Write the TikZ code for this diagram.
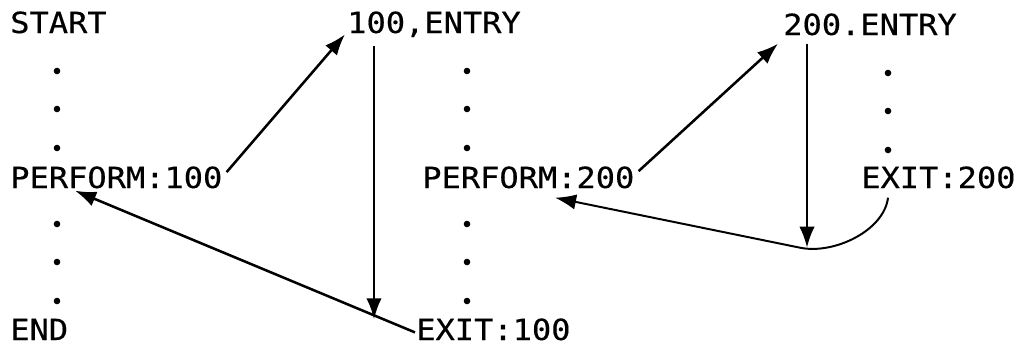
\documentclass[tikz,border=0pt]{standalone}
\usepackage{fontspec}
\setmainfont{DejaVu Sans Mono}[FakeStretch=1.1,FakeBold=0.4]
\usetikzlibrary{arrows.meta}

\begin{document}
\begin{tikzpicture}[x=0.025cm,y=-0.025cm,
    stmt/.style={anchor=base west,inner sep=0pt,font=\fontsize{20.7}{24}\selectfont},
    flow/.style={line width=1.8pt,-{Latex[length=15pt,width=11pt]}}]
  \useasboundingbox (0,0) rectangle (1023,350);

  % main program
  \node[stmt] (start) at (10,33) {START};
  \node[stmt] (perfA) at (10,188) {PERFORM:100};
  \node[stmt] (end) at (10,340) {END};
  \fill (57,71) circle (3.3) (57,109) circle (3.3) (57,148) circle (3.3);
  \fill (57,224) circle (3.3) (57,262) circle (3.3) (57,301) circle (3.3);

  % paragraph 100
  \node[stmt] (entryA) at (347,33) {100,ENTRY};
  \node[stmt] (perfB) at (422,188) {PERFORM:200};
  \node[stmt] (exitA) at (416,340) {EXIT:100};
  \fill (467,71) circle (3.3) (467,109) circle (3.3) (467,148) circle (3.3);
  \fill (467,224) circle (3.3) (467,262) circle (3.3) (467,301) circle (3.3);

  % paragraph 200
  \node[stmt] (entryB) at (783,35) {200.ENTRY};
  \node[stmt] (exitB) at (861,188) {EXIT:200};
  \fill (888,73) circle (3.3) (888,111) circle (3.3) (888,150) circle (3.3);

  % calls and returns
  \draw[flow] ([shift={(4,6)}]perfA.north east) -- ([shift={(-2,-3)}]entryA.south west);
  \draw[flow] ([shift={(27,9)}]entryA.south west) -- ++(0,273);
  \draw[flow] ([shift={(-1,3)}]exitA.west) -- ([shift={(65,2)}]perfA.south west);
  \draw[flow] ([shift={(4,5)}]perfB.north east) -- ([shift={(-5,8)}]entryB.south west);
  \draw[flow] ([shift={(24,8)}]entryB.south west) -- ++(0,204);
  \draw[flow,line width=1.4pt] ([shift={(27,9)}]exitB.south west)
    .. controls +(-4,33) and +(34,7) .. ++(-88,50)
    -- ([shift={(133,9)}]perfB.south west);
\end{tikzpicture}
\end{document}
